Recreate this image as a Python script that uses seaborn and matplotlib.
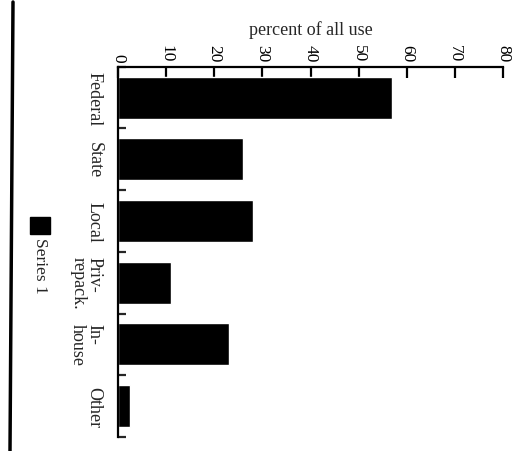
import matplotlib.pyplot as plt
import seaborn as sns
from matplotlib.patches import Rectangle
from matplotlib.lines import Line2D

sns.set_style('white')
plt.rcParams['font.family'] = ['Liberation Serif', 'DejaVu Serif']

categories = ['Federal', 'State', 'Local', 'Priv-\nrepack.', 'In-\nhouse', 'Other']
percent = [57, 26, 28, 11, 23, 2.5]
value_ticks = [0, 10, 20, 30, 40, 50, 60, 70, 80]
series_name = 'Series 1'

fig = plt.figure(figsize=(5.15, 4.52), dpi=100)
ax = fig.add_axes([0.229, 0.031, 0.748, 0.819])

sns.barplot(x=percent, y=categories, orient='h', color='black', saturation=1,
            width=0.68, ax=ax)

ax.set_xlim(0, 80)
ax.set_ylim(5.5, -0.5)

# value axis on top, labels read top-to-bottom like the scan
ax.xaxis.tick_top()
ax.xaxis.set_label_position('top')
ax.set_xticks(value_ticks)
ax.set_xticklabels([str(v) for v in value_ticks], rotation=-90, va='bottom', ha='center')
ax.set_xlabel('percent of all use', fontsize=13, labelpad=7)
ax.tick_params(axis='x', direction='in', length=8, width=1.6, pad=4, labelsize=12.5,
               top=True, bottom=False, colors='black')

# category axis on the left, ticks between the bars
ax.set_yticks(range(len(categories)))
ax.set_yticklabels(categories, rotation=-90, va='center', ha='right', multialignment='left',
                   linespacing=0.95)
ax.set_yticks([i - 0.5 for i in range(len(categories) + 1)], minor=True)
ax.tick_params(axis='y', which='major', length=0, pad=11, labelsize=13)
ax.tick_params(axis='y', which='minor', direction='in', length=6, width=1.6, left=True)
ax.set_ylabel('')

for s in ['right', 'bottom']:
    ax.spines[s].set_visible(False)
for s in ['top', 'left']:
    ax.spines[s].set_linewidth(1.6)
    ax.spines[s].set_color('black')

# legend, rotated like the rest of the page
fig.add_artist(Rectangle((0.058, 0.480), 0.039, 0.038, color='black',
                         transform=fig.transFigure))
fig.text(0.078, 0.474, series_name, rotation=-90, ha='center', va='top', fontsize=12.5)

# page edge from the scan
fig.add_artist(Line2D([13 / 515, 10 / 515], [1 - 3 / 452, 0], lw=2.5, color='black',
                      transform=fig.transFigure))

fig.savefig('out.png', dpi=100)
